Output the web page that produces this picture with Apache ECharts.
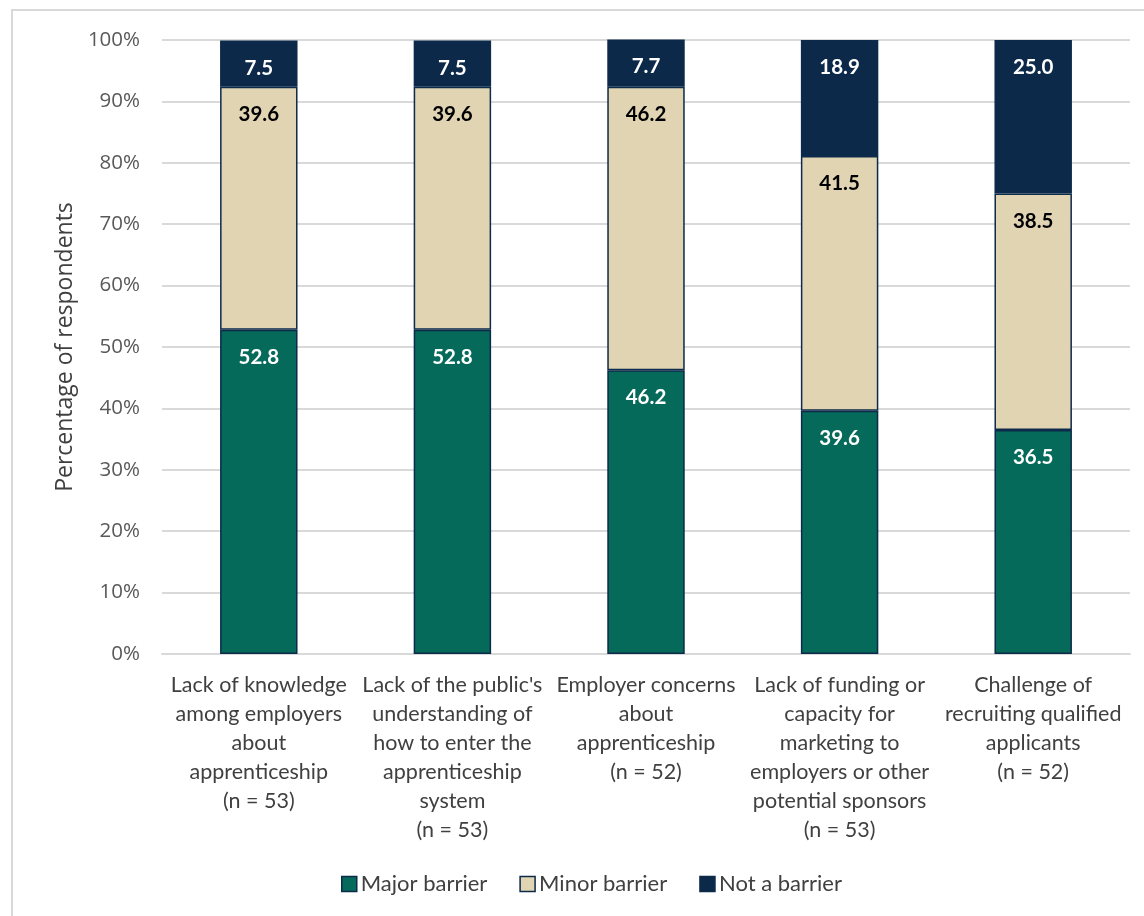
<!DOCTYPE html>
<html>
<head>
<meta charset="utf-8">
<script src="https://cdn.jsdelivr.net/npm/echarts@6/dist/echarts.min.js"></script>
<style>html,body{margin:0;padding:0;background:#fff}#c{width:1144px;height:916px}</style>
</head>
<body>
<div id="c"></div>
<script>
const categories = [
  "Lack of knowledge\namong employers\nabout\napprenticeship\n(n = 53)",
  "Lack of the public's\nunderstanding of\nhow to enter the\napprenticeship\nsystem\n(n = 53)",
  "Employer concerns\nabout\napprenticeship\n(n = 52)",
  "Lack of funding or\ncapacity for\nmarketing to\nemployers or other\npotential sponsors\n(n = 53)",
  "Challenge of\nrecruiting qualified\napplicants\n(n = 52)"
];
const majorBarrier = [52.8, 52.8, 46.2, 39.6, 36.5];
const minorBarrier = [39.6, 39.6, 46.2, 41.5, 38.5];
const notABarrier = [7.5, 7.5, 7.7, 18.9, 25.0];
const seriesNames = ["Major barrier", "Minor barrier", "Not a barrier"];
const yTicks = [0, 10, 20, 30, 40, 50, 60, 70, 80, 90, 100];

const chart = echarts.init(document.getElementById('c'));
const border = '#0c2a4a';
function mk(name, data, color, labelColor) {
  return {
    name: name, type: 'bar', stack: 'total', data: data, barWidth: '40%',
    itemStyle: { color: color, borderColor: border, borderWidth: 1.5 },
    label: {
      show: true, position: 'insideTop', distance: 17,
      formatter: p => p.value.toFixed(1),
      color: labelColor, fontFamily: 'Lato', fontWeight: 'bold', fontSize: 20.5
    }
  };
}
chart.setOption({
  animation: false,
  graphic: [{
    type: 'rect', shape: { x: 12, y: 10, width: 1160, height: 940 },
    style: { fill: 'none', stroke: '#d9d9d9', lineWidth: 2 }, silent: true
  }],
  grid: { left: 162, right: 14, top: 40, bottom: 262, containLabel: false },
  legend: {
    bottom: 16, left: 336,
    itemWidth: 15, itemHeight: 15, itemGap: 32,
    icon: 'rect',
    textStyle: { fontFamily: 'Lato', fontSize: 22, color: '#404040', padding: [0, 0, 0, -1] },
    itemStyle: { borderColor: border, borderWidth: 1.5 },
    data: seriesNames
  },
  xAxis: {
    type: 'category', data: categories,
    axisLine: { lineStyle: { color: '#d9d9d9', width: 2 } },
    axisTick: { show: false },
    axisLabel: {
      interval: 0, margin: 17, lineHeight: 29,
      fontFamily: 'Lato', fontSize: 21.5, color: '#404040'
    }
  },
  yAxis: {
    type: 'value', min: 0, max: 100, interval: 10,
    name: 'Percentage of respondents', nameLocation: 'middle', nameGap: 84,
    nameTextStyle: { fontFamily: 'Open Sans', fontSize: 23, color: '#404040' },
    axisLine: { show: false }, axisTick: { show: false },
    splitLine: { lineStyle: { color: '#d9d9d9', width: 2 } },
    axisLabel: {
      margin: 22, fontFamily: 'Open Sans', fontSize: 20.5, color: '#595959',
      formatter: v => yTicks.includes(v) ? v + '%' : ''
    }
  },
  series: [
    mk(seriesNames[0], majorBarrier, '#066a5b', '#ffffff'),
    mk(seriesNames[1], minorBarrier, '#e0d4b3', '#000000'),
    mk(seriesNames[2], notABarrier, '#0c2949', '#ffffff')
  ]
});
</script>
</body>
</html>
